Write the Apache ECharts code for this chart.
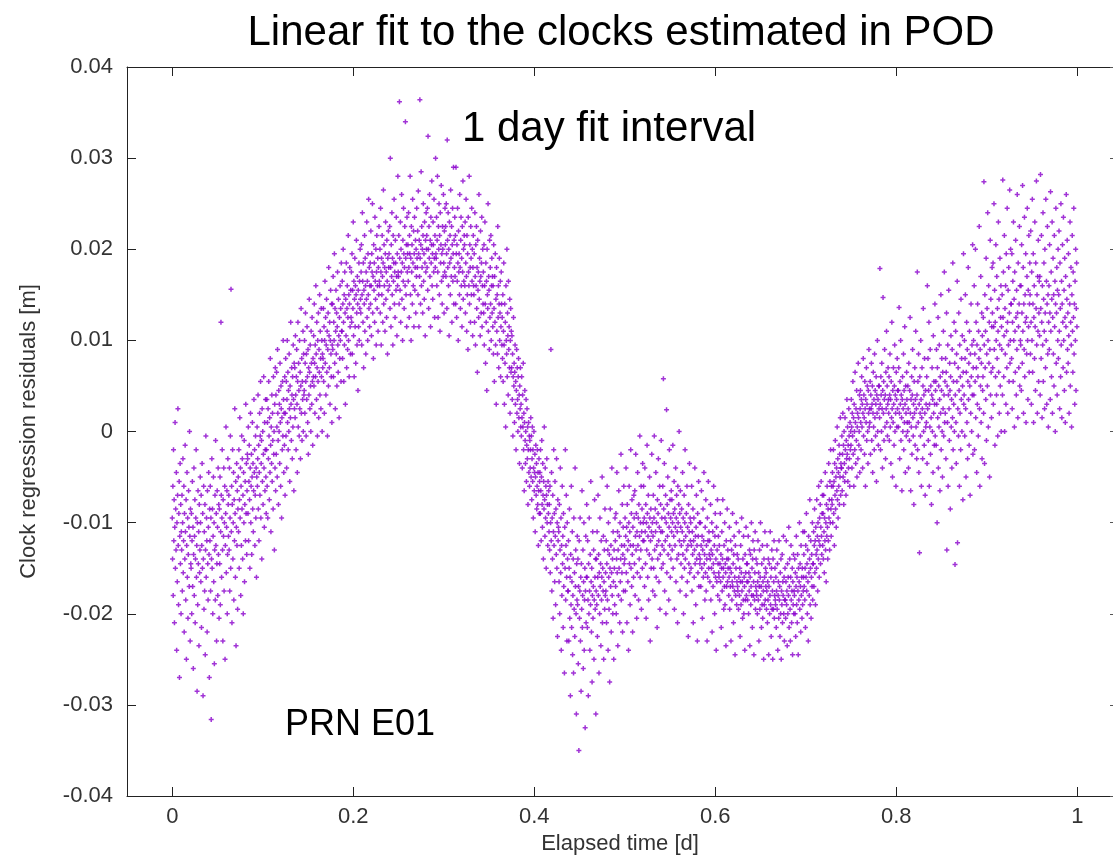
<!DOCTYPE html>
<html>
<head>
<meta charset="utf-8">
<script src="https://cdn.jsdelivr.net/npm/echarts@6/dist/echarts.min.js"></script>
<style>html,body{margin:0;padding:0;background:#fff}#chart{width:1113px;height:862px}</style>
</head>
<body>
<div id="chart"></div>
<script>
// Clock regression residuals, 30 s epochs, values in units of 0.1 mm, one array per hour
const hour00 = [-95,-140,-60,-180,-20,-120,-75,-210,-105,10,-150,-85,-130,-45,-240,-100,-165,-70,25,-125,-190,-90,-55,-270,-115,-35,-145,-80,-200,-110,
-130,-70,-175,-100,-30,-155,-120,-60,-220,-90,-140,-15,-110,-185,-75,-250,-125,-45,-160,-95,-205,-135,-65,-105,-170,0,-115,-230,-85,-145,
-150,-90,-200,-120,-55,-170,-105,-260,-135,-40,-180,-115,-75,-210,-140,-95,-20,-160,-125,-285,-100,-190,-65,-145,-110,-235,-80,-155,-130,-50,
-100,-165,-70,-215,-125,-35,-150,-90,-290,-140,-60,-195,-110,-175,-80,-245,-130,-5,-160,-95,-120,-220,-65,-145,-185,-105,-45,-135,-270,-85];
const hour01 = [-120,-60,-175,-95,-316,-140,-30,-150,-85,-200,-115,-50,-165,-100,-255,-130,-70,-185,-10,-125,-90,-230,-145,-65,-105,-180,-40,-135,-80,-205,
-85,-145,-50,-190,-110,120,-70,-160,-95,-20,-130,-230,-75,-115,-40,-175,-100,-60,-250,-125,-90,5,-155,-105,-65,-200,-135,-30,-80,-115,
-70,-130,-40,-175,-95,-5,-150,156,-110,-60,-210,-80,-20,-140,-100,-45,-185,-75,-120,25,-90,-160,-55,-235,-105,-35,-125,-65,-195,-85,
-50,-110,-20,-150,-75,15,-95,-40,-180,-60,-125,-5,-85,-30,-140,-70,-200,-45,-100,-10,-165,-80,-55,-120,30,-90,-35,-135,-65,-25];
const hour02 = [-30,-90,5,-120,-55,-15,-75,-150,-40,20,-100,-60,-25,-135,-50,10,-85,-35,-110,-65,35,-45,-20,-125,-70,-5,-95,-40,-160,-50,
5,-60,-30,40,-85,-15,-120,-45,20,-70,-5,55,-95,-35,-10,-140,25,-55,0,-80,-25,60,-40,-105,10,-65,-20,35,-50,-90,
-20,35,-60,10,-95,25,-30,55,-5,-75,15,-45,80,-15,-110,5,-35,40,-55,20,-10,-85,60,-25,0,-130,30,-40,70,-65,
40,-25,65,5,-50,90,20,-10,-80,45,0,30,-35,75,10,-60,50,25,-95,15,-20,55,-5,100,35,-45,20,-15,60,-70];
const hour03 = [20,80,-5,55,-40,35,100,10,65,-20,45,0,85,25,-55,50,15,120,30,-10,70,40,-30,60,5,95,35,-65,75,25,
70,15,105,40,-20,60,90,30,-45,55,120,5,75,45,-5,100,25,65,-30,50,135,20,80,-10,55,35,110,0,85,40,
45,100,20,75,130,55,-5,85,35,115,60,10,90,-25,70,40,145,65,25,95,50,0,110,75,30,125,55,-15,80,60,
105,50,140,75,20,95,60,160,85,35,120,70,-5,100,55,130,15,90,65,150,40,110,80,25,135,60,100,0,85,70];
const hour04 = [80,135,55,115,20,100,165,75,125,40,95,145,65,110,-5,90,130,50,180,105,70,120,30,100,155,85,60,140,10,95,
140,90,170,60,120,100,195,75,135,25,110,155,85,130,50,115,175,95,65,145,105,15,125,80,160,100,135,55,185,110,
110,165,80,140,200,120,55,150,95,175,130,30,145,105,185,70,135,160,90,125,215,100,150,60,140,180,115,85,155,125,
175,120,195,85,155,135,230,105,165,60,145,190,115,160,75,150,210,130,95,170,140,45,155,115,185,100,165,135,200,145];
const hour05 = [130,175,205,95,150,240,165,120,185,70,155,140,215,110,190,160,85,175,145,230,125,165,100,195,150,255,135,180,115,160,
185,140,220,160,105,195,175,250,130,170,80,205,155,185,120,235,165,145,200,95,175,215,135,160,190,110,180,150,225,165,
160,200,130,245,175,95,190,150,215,170,120,185,265,140,205,160,180,110,195,230,145,175,125,210,165,85,190,155,220,180,
195,160,225,135,300,180,115,205,170,240,150,190,95,215,165,185,255,140,175,125,210,185,155,235,170,105,195,160,280,175];
const hour06 = [170,215,140,362,190,155,230,120,200,175,260,145,185,100,210,165,245,195,135,180,225,160,340,190,150,205,115,235,175,195,
205,165,240,180,125,215,195,280,150,190,100,225,175,205,140,255,185,160,220,115,195,235,155,180,210,130,200,170,245,190,
180,220,150,264,195,115,210,170,364,190,140,205,285,160,225,180,200,130,215,250,165,195,145,230,185,105,210,175,240,200,
215,180,245,155,324,200,135,225,190,260,170,210,115,235,185,205,275,160,195,145,230,205,175,255,190,125,215,180,300,195];
const hour07 = [190,235,160,210,280,175,125,225,200,250,150,215,110,240,185,205,270,165,195,140,225,200,170,260,185,130,220,175,245,205,
225,170,250,195,135,320,210,180,240,160,200,105,230,185,215,150,265,190,170,225,120,205,245,165,195,290,140,210,180,235,
170,215,140,290,195,125,205,165,245,185,100,220,175,195,150,260,180,135,210,235,160,190,115,225,175,275,145,200,165,215,
205,160,230,130,185,255,170,110,215,150,195,90,235,175,160,280,140,205,180,120,225,190,150,245,165,200,105,180,215,160];
const hour08 = [150,195,120,240,170,95,205,160,225,135,180,65,210,155,175,125,260,145,190,165,105,220,170,130,185,235,115,160,200,140,
175,130,205,95,160,230,140,75,185,120,165,45,200,150,135,250,110,170,155,90,210,125,180,140,215,100,160,190,130,170,
115,160,85,205,135,55,170,120,195,95,145,30,180,110,150,85,225,125,160,70,140,190,100,130,165,60,115,175,140,95,
125,80,150,55,110,185,95,30,140,75,120,5,160,100,85,200,60,130,105,40,165,90,115,70,145,20,100,135,65,110];
const hour09 = [70,105,35,85,-5,60,125,50,75,10,65,95,30,55,-20,45,90,20,70,35,0,60,80,15,40,-35,50,25,70,5,
30,-5,60,15,-40,40,5,75,-20,20,-65,10,45,-10,-35,0,35,-55,-15,25,-30,5,-80,-20,10,-45,-5,-60,-10,-40,
-20,15,-50,-5,-75,-30,5,-55,-20,-95,-40,0,-65,-45,-25,-110,-50,-15,-70,-35,-85,-60,-20,-80,-45,-125,-65,-30,-90,-55,
-45,-90,-20,-65,-120,-50,-10,-80,-105,-35,-70,-140,-55,-85,5,-75,-115,-40,-95,-60,-150,-70,-30,-100,-80,-125,-55,-90,-65,-110];
const hour10 = [-80,-130,-60,-155,-100,90,-120,-45,-175,-95,-140,-70,-205,-110,-20,-125,-90,-165,-55,-115,-190,-85,-135,-30,-150,-100,-225,-75,-120,-105,
-110,-165,-80,-200,-130,-40,-155,-95,-240,-125,-180,-60,-145,-115,-215,-90,-170,-135,-265,-105,-150,-20,-185,-125,-70,-160,-230,-100,-140,-175,
-175,-120,-230,-150,-85,-205,-160,-290,-135,-190,-60,-215,-165,-110,-245,-180,-140,-265,-95,-195,-155,-225,-40,-170,-130,-200,-310,-145,-185,-115,
-190,-140,-255,-170,-350,-120,-205,-175,-95,-230,-160,-285,-145,-195,-65,-215,-180,-130,-260,-165,-100,-240,-185,-150,-325,-175,-115,-210,-160,-80];
const hour11 = [-160,-215,-120,-185,-290,-145,-200,-95,-175,-240,-135,-190,-55,-165,-220,-150,-275,-180,-110,-205,-170,-130,-250,-185,-75,-160,-195,-140,-310,-175,
-140,-190,-110,-225,-160,-70,-180,-135,-265,-155,-200,-95,-170,-145,-235,-120,-185,-160,-50,-210,-150,-175,-115,-250,-165,-130,-195,-85,-180,-155,
-175,-120,-210,-145,-60,-185,-130,-240,-100,-160,-195,-135,-275,-150,-85,-170,-125,-220,-155,-40,-180,-140,-200,-110,-165,-250,-130,-150,-190,-95,
-120,-170,-90,-200,-140,-45,-155,-110,-235,-130,-180,-65,-150,-115,-210,-100,-165,-140,-25,-185,-125,-155,-80,-220,-135,-105,-175,-60,-145,-125];
const hour12 = [-140,-95,-175,-115,-40,-155,-105,-210,-80,-130,-165,-120,-240,-100,-60,-145,-110,-190,-125,-20,-150,-90,-170,-75,-135,-220,-105,-125,-160,-70,
-95,-145,-65,-180,-115,-25,-130,-90,-205,-110,-155,-45,-125,-95,-185,-80,-140,-115,-5,-160,-100,-130,-60,-195,-110,-85,-150,-35,-120,-100,
-60,-120,-95,-170,-40,-110,-145,-80,-205,-100,-130,-15,-90,-160,-115,-70,-185,-105,-135,-50,-95,-230,-120,-85,-150,-110,-25,-140,-100,-175,
-115,-70,-150,-95,-5,-130,-180,-85,-110,-45,-160,-100,-125,-215,-75,-140,-90,-30,-120,-165,-105,-60,-195,-135,-80,-110,-10,-150,-95,-125];
const hour13 = [-110,-60,-145,58,-85,-130,-35,-175,-95,-120,-70,-200,-100,24,-155,-80,-115,-50,-135,-90,-185,-105,-20,-125,-75,-160,-95,-140,-65,-110,
-75,-130,-100,-15,-150,-90,-115,-55,-195,-85,-125,-105,-40,-165,-95,-70,-140,-110,-210,-60,-100,-135,-80,0,-120,-90,-175,-65,-105,-145,
-125,-85,-160,-110,-45,-135,-95,-200,-120,-70,-150,-100,-20,-140,-115,-180,-90,-130,-60,-165,-105,-125,-225,-80,-145,-110,-35,-155,-95,-120,
-100,-150,-125,-60,-175,-110,-135,-85,-210,-120,-95,-160,-130,-40,-145,-115,-190,-105,-70,-140,-125,-230,-90,-155,-115,-55,-170,-135,-100,-145];
const hour14 = [-140,-100,-170,-125,-65,-150,-115,-205,-130,-85,-160,-120,-45,-145,-135,-185,-105,-155,-75,-175,-125,-140,-230,-95,-160,-120,-55,-150,-110,-135,
-120,-165,-140,-80,-185,-130,-150,-100,-220,-135,-110,-170,-145,-60,-155,-125,-200,-115,-90,-160,-140,-240,-105,-165,-130,-75,-180,-145,-115,-155,
-160,-125,-185,-145,-90,-165,-135,-215,-150,-110,-175,-140,-75,-160,-150,-195,-125,-170,-100,-190,-145,-155,-235,-120,-170,-140,-85,-165,-130,-150,
-140,-180,-160,-105,-195,-150,-170,-120,-230,-155,-130,-185,-165,-90,-170,-145,-210,-135,-115,-175,-160,-245,-125,-180,-150,-100,-190,-165,-135,-170];
const hour15 = [-175,-140,-195,-160,-110,-180,-150,-225,-165,-125,-190,-155,-95,-175,-165,-205,-140,-185,-115,-200,-160,-170,-240,-135,-185,-155,-105,-180,-145,-165,
-145,-185,-165,-115,-200,-155,-175,-130,-235,-160,-135,-190,-170,-100,-180,-150,-215,-140,-120,-180,-165,-245,-130,-185,-155,-110,-195,-170,-140,-175,
-180,-145,-200,-165,-120,-185,-155,-230,-170,-130,-195,-160,-100,-180,-170,-215,-145,-190,-125,-205,-165,-175,-250,-140,-190,-160,-110,-185,-150,-170,
-155,-195,-175,-125,-210,-165,-185,-140,-245,-170,-145,-200,-180,-110,-190,-160,-225,-150,-130,-195,-175,-250,-140,-195,-165,-120,-205,-180,-150,-185];
const hour16 = [-190,-160,-215,-175,-130,-195,-145,-240,-180,-165,-205,-120,-185,-170,-225,-155,-200,-140,-250,-175,-190,-135,-210,-165,-180,-115,-200,-160,-230,-185,
-150,-185,-205,-165,-120,-190,-175,-235,-145,-200,-160,-180,-105,-215,-170,-140,-195,-230,-160,-125,-185,-210,-175,-150,-245,-165,-190,-135,-200,-175,
-180,-140,-200,-155,-225,-170,-115,-190,-160,-210,-135,-175,-245,-150,-185,-165,-100,-195,-145,-170,-220,-125,-180,-160,-205,-150,-190,-110,-175,-160,
-135,-170,-110,-185,-150,-215,-125,-160,-90,-175,-145,-200,-130,-165,-230,-115,-155,-180,-140,-75,-190,-150,-120,-205,-160,-135,-170,-100,-185,-145];
const hour17 = [-145,-110,-170,-125,-85,-155,-120,-190,-105,-135,-150,-75,-130,-115,-175,-100,-140,-60,-120,-160,-95,-125,-80,-145,-105,-55,-115,-135,-90,-70,
-125,-90,-140,-70,-110,-155,-95,-120,-45,-130,-100,-165,-80,-115,-60,-105,-140,-85,-120,-35,-95,-75,-130,-55,-100,-20,-85,-115,-60,-75,
-80,-45,-100,-60,-20,-90,-55,-125,-35,-70,-10,-85,-50,-105,-40,-65,5,-75,-30,-95,-45,-60,-15,-80,-25,-50,15,-70,-35,-40,
-40,-5,-65,-25,20,-50,-15,-80,0,-35,-55,15,-20,-45,-70,-10,-30,35,-25,5,-55,-15,-40,25,-5,-30,-60,10,-20,0];
const hour18 = [-15,35,5,-40,20,-5,55,-25,15,-60,30,0,-20,65,10,-35,25,-10,45,-50,5,20,-30,75,15,-15,0,40,-45,25,
45,10,-20,35,60,5,30,-40,20,80,-5,40,15,-25,55,25,-60,35,10,70,-10,30,50,0,-35,45,20,90,5,25,
10,55,-25,40,25,75,-10,30,50,-45,20,65,5,35,-20,85,15,45,-5,30,60,-55,40,20,100,0,35,-15,50,25,
50,15,179,30,-20,60,40,0,75,25,-40,45,147,20,55,-10,35,90,5,40,-30,65,25,110,10,50,-5,30,70,35];
const hour19 = [20,60,-10,40,85,5,35,-35,55,15,120,25,-50,45,10,70,30,-15,50,95,0,40,20,-60,65,35,5,80,25,45,
45,5,70,136,20,-30,55,30,100,-10,40,15,-65,35,60,0,25,85,-20,45,10,115,30,-45,50,20,-5,65,35,10,
0,50,25,-40,75,10,-10,45,125,20,-65,35,5,60,-25,40,90,15,-5,30,-80,55,20,70,-15,35,110,5,25,-30,
40,175,-20,55,10,85,-45,30,-133,60,20,-5,100,35,-60,15,70,25,-30,50,135,0,40,-15,80,20,-70,45,5,30];
const hour20 = [10,60,-35,160,25,80,-10,45,120,-60,30,5,90,-25,50,15,-80,40,70,0,35,-45,105,20,55,-15,30,140,-5,45,
55,-15,90,30,-100,70,15,125,-40,50,5,95,35,-65,60,20,150,-20,45,80,0,-50,65,25,110,-5,40,175,10,55,
20,80,-30,65,130,-130,50,10,95,-60,40,155,25,-10,75,45,-85,60,105,5,35,-40,90,15,185,-20,55,30,120,0,
75,-146,40,110,10,-35,85,55,165,-122,25,70,-5,130,45,-60,95,20,60,-20,145,35,80,0,105,50,-75,65,195,30];
const hour21 = [40,100,-5,80,150,25,-50,65,120,10,90,-30,55,180,35,75,-15,110,50,-70,85,20,140,60,0,95,40,205,-25,70,
100,40,160,-20,85,55,200,15,120,70,-45,95,30,140,60,-5,110,80,225,25,-60,90,50,170,10,75,130,-30,105,45,
60,125,20,274,95,-35,150,70,110,35,190,-10,85,135,50,240,100,5,160,75,120,-50,90,210,40,145,65,15,115,180,
130,70,185,30,115,250,90,155,-15,120,60,205,100,40,170,80,135,-5,110,230,65,145,20,95,190,50,125,160,0,115];
const hour22 = [90,150,40,276,125,175,60,105,215,0,135,85,160,30,195,110,70,245,120,20,155,95,180,55,130,265,75,100,200,140,
140,80,195,25,120,165,55,230,100,145,5,175,110,65,210,125,40,155,90,260,130,15,185,115,70,140,225,50,160,100,
95,160,45,205,130,75,270,110,180,20,140,90,235,60,150,120,195,10,125,85,170,245,100,35,155,115,215,65,140,185,
150,85,220,120,30,175,100,255,65,140,195,10,125,160,80,230,115,45,185,135,275,95,150,20,170,110,210,55,130,165];
const hour23 = [105,170,40,282,135,80,215,120,15,160,95,240,55,145,185,110,25,200,130,70,255,100,165,30,140,225,85,150,5,120,
160,90,205,130,35,263,110,175,60,145,230,20,125,190,85,150,50,215,115,165,0,140,245,75,130,180,40,155,100,200,
80,150,220,110,25,185,135,60,250,95,165,15,140,205,120,70,235,100,155,45,190,125,10,170,115,260,65,145,210,90,
130,75,195,105,20,160,140,230,50,120,180,95,5,150,215,110,65,175,125,245,85,140,30,165,100,200,45,135,185,115];

const xTicks = [0, 0.2, 0.4, 0.6, 0.8, 1];
const EPOCHS_PER_DAY = 2880;     // 30 s sampling
const EPOCHS_PER_HOUR = 120;
const UNIT = 1e-4;               // 0.1 mm -> m

const hours = [hour00,hour01,hour02,hour03,hour04,hour05,hour06,hour07,hour08,hour09,hour10,hour11,
               hour12,hour13,hour14,hour15,hour16,hour17,hour18,hour19,hour20,hour21,hour22,hour23];
const points = [];
hours.forEach((arr, h) => arr.forEach((v, i) => {
  points.push([(h * EPOCHS_PER_HOUR + i) / EPOCHS_PER_DAY, v * UNIT]);
}));

const FONT = '"Liberation Sans", Arial, sans-serif';
const axisColor = '#222';
const labelColor = '#333';

const chart = echarts.init(document.getElementById('chart'), null, {renderer: 'canvas'});
chart.setOption({
  animation: false,
  backgroundColor: '#ffffff',
  grid: {left: 127, top: 67, right: 0, bottom: 66, containLabel: false},
  xAxis: [{
    type: 'value', min: -0.05, max: 1.0395, position: 'bottom',
    axisLine: {show: true, onZero: false, lineStyle: {color: axisColor, width: 1}},
    axisTick: {show: true, inside: true, length: 9, customValues: xTicks, lineStyle: {color: axisColor}},
    axisLabel: {show: true, customValues: xTicks, margin: 10, fontSize: 22, color: labelColor, fontFamily: FONT,
      formatter: v => String(Math.round(v * 10) / 10)},
    splitLine: {show: false},
    name: 'Elapsed time [d]', nameLocation: 'middle', nameGap: 26,
    nameTextStyle: {fontSize: 22, color: labelColor, fontFamily: FONT}
  }, {
    type: 'value', min: -0.05, max: 1.0395, position: 'top',
    axisLine: {show: true, onZero: false, lineStyle: {color: axisColor, width: 1}},
    axisTick: {show: true, inside: true, length: 9, customValues: xTicks, lineStyle: {color: axisColor}},
    axisLabel: {show: false}, splitLine: {show: false}
  }],
  yAxis: [{
    type: 'value', min: -0.04, max: 0.04, interval: 0.01, position: 'left',
    axisLine: {show: true, onZero: false, lineStyle: {color: axisColor, width: 1}},
    axisTick: {show: true, inside: true, length: 9, lineStyle: {color: axisColor}},
    axisLabel: {show: true, margin: 14, fontSize: 22, color: labelColor, fontFamily: FONT,
      formatter: v => String(Math.round(v * 100) / 100)},
    splitLine: {show: false},
    name: 'Clock regression residuals [m]', nameLocation: 'middle', nameGap: 87,
    nameTextStyle: {fontSize: 22, color: labelColor, fontFamily: FONT}
  }, {
    type: 'value', min: -0.04, max: 0.04, interval: 0.01, position: 'right',
    axisLine: {show: false, onZero: false},
    axisTick: {show: true, inside: true, length: 3, lineStyle: {color: '#555'}},
    axisLabel: {show: false}, splitLine: {show: false}
  }],
  series: [{
    type: 'scatter', xAxisIndex: 0, yAxisIndex: 0,
    data: points,
    symbol: 'path://M3.5,0H6.5V3.5H10V6.5H6.5V10H3.5V6.5H0V3.5H3.5Z',
    symbolSize: 5,
    itemStyle: {color: '#8a00cc'},
    emphasis: {disabled: true},
    z: 2
  }],
  graphic: [
    {type: 'text', x: 621, y: 33, z: 10,
     style: {text: 'Linear fit to the clocks estimated in POD', fontSize: 42, fontFamily: FONT, fill: '#000',
       textAlign: 'center', textVerticalAlign: 'middle'}},
    {type: 'text', x: 609, y: 129, z: 10,
     style: {text: '1 day fit interval', fontSize: 42, fontFamily: FONT, fill: '#000',
       textAlign: 'center', textVerticalAlign: 'middle'}},
    {type: 'text', x: 285, y: 725, z: 10,
     style: {text: 'PRN E01', fontSize: 36, fontFamily: FONT, fill: '#000',
       textAlign: 'left', textVerticalAlign: 'middle'}}
  ]
});
</script>
</body>
</html>
